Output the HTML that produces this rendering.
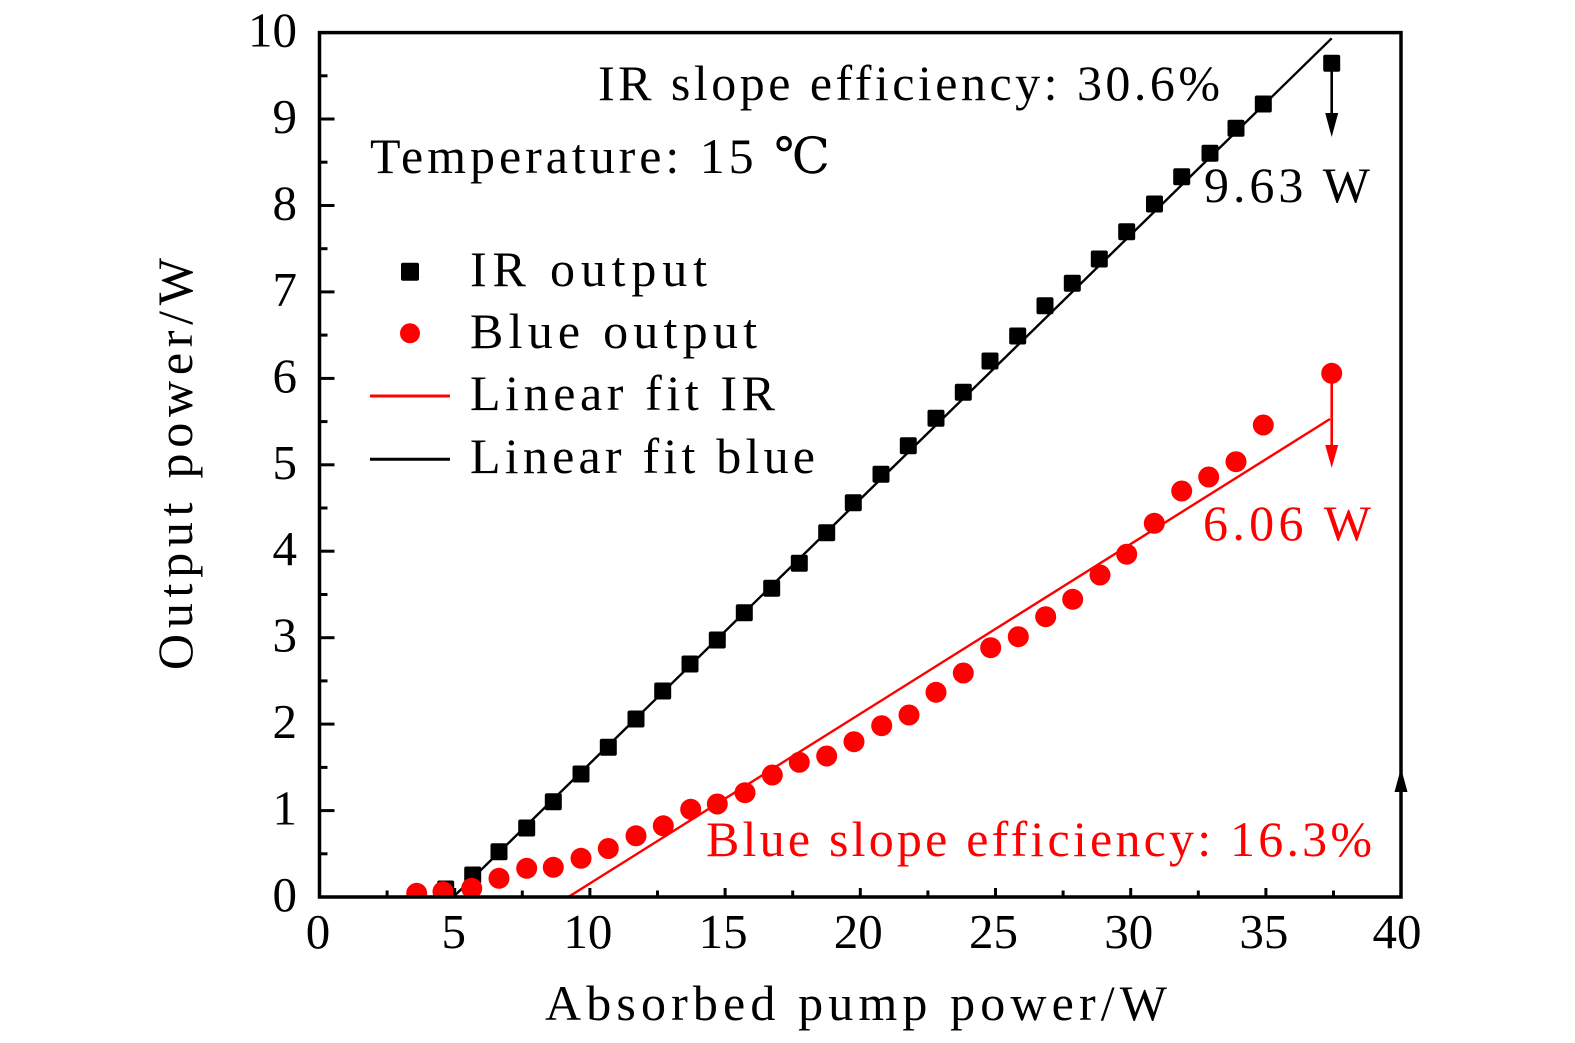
<!DOCTYPE html>
<html>
<head>
<meta charset="utf-8">
<style>
html,body{margin:0;padding:0;background:#fff;}
svg{display:block;}
text{font-family:"Liberation Serif","DejaVu Serif",serif;}
</style>
</head>
<body>
<svg width="1575" height="1043" viewBox="0 0 1575 1043" xmlns="http://www.w3.org/2000/svg">
<defs>
<clipPath id="pa"><rect x="319.5" y="32.6" width="1081.5" height="864.4"/></clipPath>
</defs>
<rect width="1575" height="1043" fill="#fff"/>

<g clip-path="url(#pa)">
<line x1="453.3" y1="897" x2="1331.7" y2="38.3" stroke="#000" stroke-width="2.4"/>
<line x1="568.3" y1="897" x2="1330" y2="419" stroke="#f00" stroke-width="2.4"/>

<line x1="1331.7" y1="63" x2="1331.7" y2="118" stroke="#000" stroke-width="2.6"/>
<polygon points="1325.2,113 1338.2,113 1331.7,137" fill="#000"/>
<line x1="1331.7" y1="373" x2="1331.7" y2="450" stroke="#f00" stroke-width="2.6"/>
<polygon points="1325.2,445 1338.2,445 1331.7,468" fill="#f00"/>

<g fill="#000">
<rect x="437.2" y="880.5" width="17" height="17" rx="2"/>
<rect x="464.2" y="866.5" width="17" height="17" rx="2"/>
<rect x="490.5" y="843.2" width="17" height="17" rx="2"/>
<rect x="518.2" y="819.5" width="17" height="17" rx="2"/>
<rect x="544.8" y="793.2" width="17" height="17" rx="2"/>
<rect x="572.5" y="765.5" width="17" height="17" rx="2"/>
<rect x="599.8" y="738.8" width="17" height="17" rx="2"/>
<rect x="627.5" y="710.5" width="17" height="17" rx="2"/>
<rect x="654.2" y="682.5" width="17" height="17" rx="2"/>
<rect x="681.5" y="655.5" width="17" height="17" rx="2"/>
<rect x="708.8" y="631.5" width="17" height="17" rx="2"/>
<rect x="735.8" y="604.2" width="17" height="17" rx="2"/>
<rect x="763.2" y="579.8" width="17" height="17" rx="2"/>
<rect x="790.8" y="554.8" width="17" height="17" rx="2"/>
<rect x="818.2" y="524.2" width="17" height="17" rx="2"/>
<rect x="844.8" y="494.2" width="17" height="17" rx="2"/>
<rect x="872.5" y="465.8" width="17" height="17" rx="2"/>
<rect x="899.8" y="437.2" width="17" height="17" rx="2"/>
<rect x="927.5" y="409.8" width="17" height="17" rx="2"/>
<rect x="954.8" y="383.8" width="17" height="17" rx="2"/>
<rect x="981.5" y="352.5" width="17" height="17" rx="2"/>
<rect x="1009.2" y="327.5" width="17" height="17" rx="2"/>
<rect x="1036.5" y="297.2" width="17" height="17" rx="2"/>
<rect x="1063.8" y="274.8" width="17" height="17" rx="2"/>
<rect x="1090.8" y="250.5" width="17" height="17" rx="2"/>
<rect x="1118.2" y="223.2" width="17" height="17" rx="2"/>
<rect x="1146" y="195.5" width="17" height="17" rx="2"/>
<rect x="1173.2" y="168.2" width="17" height="17" rx="2"/>
<rect x="1201.5" y="144.8" width="17" height="17" rx="2"/>
<rect x="1227.5" y="119.8" width="17" height="17" rx="2"/>
<rect x="1254.8" y="95.5" width="17" height="17" rx="2"/>
<rect x="1323.2" y="54.8" width="17" height="17" rx="2"/>
</g>

<g fill="#f00">
<circle cx="416.7" cy="893.3" r="10.5"/>
<circle cx="443" cy="891.7" r="10.5"/>
<circle cx="471.7" cy="888.3" r="10.5"/>
<circle cx="499" cy="878.3" r="10.5"/>
<circle cx="526.7" cy="868.3" r="10.5"/>
<circle cx="553.3" cy="867.3" r="10.5"/>
<circle cx="581" cy="858.3" r="10.5"/>
<circle cx="608.3" cy="848.5" r="10.5"/>
<circle cx="636" cy="835.8" r="10.5"/>
<circle cx="663.3" cy="825.8" r="10.5"/>
<circle cx="690.7" cy="809.3" r="10.5"/>
<circle cx="717.3" cy="804" r="10.5"/>
<circle cx="745" cy="792.7" r="10.5"/>
<circle cx="772.3" cy="775" r="10.5"/>
<circle cx="799.3" cy="762.3" r="10.5"/>
<circle cx="826.7" cy="756" r="10.5"/>
<circle cx="854" cy="741.7" r="10.5"/>
<circle cx="881.7" cy="725.7" r="10.5"/>
<circle cx="909" cy="715" r="10.5"/>
<circle cx="936" cy="692.3" r="10.5"/>
<circle cx="963.3" cy="673" r="10.5"/>
<circle cx="990.7" cy="647.7" r="10.5"/>
<circle cx="1018.3" cy="636.7" r="10.5"/>
<circle cx="1045.7" cy="616.7" r="10.5"/>
<circle cx="1072.7" cy="599.3" r="10.5"/>
<circle cx="1100" cy="575" r="10.5"/>
<circle cx="1126.7" cy="554.2" r="10.5"/>
<circle cx="1154.3" cy="523.3" r="10.5"/>
<circle cx="1181.7" cy="491" r="10.5"/>
<circle cx="1208.7" cy="477" r="10.5"/>
<circle cx="1236" cy="461.7" r="10.5"/>
<circle cx="1263.3" cy="425" r="10.5"/>
<circle cx="1331.7" cy="373.3" r="10.5"/>
</g>
</g>

<rect x="319.5" y="32.6" width="1081.5" height="864.4" fill="none" stroke="#000" stroke-width="3.5"/>

<polygon points="1394.5,792 1407.5,792 1401,768" fill="#000"/>

<g stroke="#000" stroke-width="3">
<line x1="319.5" y1="810.6" x2="334.5" y2="810.6"/>
<line x1="319.5" y1="724.1" x2="334.5" y2="724.1"/>
<line x1="319.5" y1="637.7" x2="334.5" y2="637.7"/>
<line x1="319.5" y1="551.2" x2="334.5" y2="551.2"/>
<line x1="319.5" y1="464.8" x2="334.5" y2="464.8"/>
<line x1="319.5" y1="378.4" x2="334.5" y2="378.4"/>
<line x1="319.5" y1="291.9" x2="334.5" y2="291.9"/>
<line x1="319.5" y1="205.5" x2="334.5" y2="205.5"/>
<line x1="319.5" y1="119.0" x2="334.5" y2="119.0"/>
<line x1="319.5" y1="853.8" x2="327.5" y2="853.8"/>
<line x1="319.5" y1="767.4" x2="327.5" y2="767.4"/>
<line x1="319.5" y1="680.9" x2="327.5" y2="680.9"/>
<line x1="319.5" y1="594.5" x2="327.5" y2="594.5"/>
<line x1="319.5" y1="508.0" x2="327.5" y2="508.0"/>
<line x1="319.5" y1="421.6" x2="327.5" y2="421.6"/>
<line x1="319.5" y1="335.1" x2="327.5" y2="335.1"/>
<line x1="319.5" y1="248.7" x2="327.5" y2="248.7"/>
<line x1="319.5" y1="162.2" x2="327.5" y2="162.2"/>
<line x1="319.5" y1="75.8" x2="327.5" y2="75.8"/>
<line x1="454.7" y1="897" x2="454.7" y2="888"/>
<line x1="589.9" y1="897" x2="589.9" y2="888"/>
<line x1="725.1" y1="897" x2="725.1" y2="888"/>
<line x1="860.3" y1="897" x2="860.3" y2="888"/>
<line x1="995.5" y1="897" x2="995.5" y2="888"/>
<line x1="1130.7" y1="897" x2="1130.7" y2="888"/>
<line x1="1265.9" y1="897" x2="1265.9" y2="888"/>
<line x1="387.1" y1="897" x2="387.1" y2="890.5"/>
<line x1="522.3" y1="897" x2="522.3" y2="890.5"/>
<line x1="657.5" y1="897" x2="657.5" y2="890.5"/>
<line x1="792.7" y1="897" x2="792.7" y2="890.5"/>
<line x1="927.9" y1="897" x2="927.9" y2="890.5"/>
<line x1="1063.1" y1="897" x2="1063.1" y2="890.5"/>
<line x1="1198.3" y1="897" x2="1198.3" y2="890.5"/>
<line x1="1333.5" y1="897" x2="1333.5" y2="890.5"/>
</g>

<g font-size="49" text-anchor="end" fill="#000">
<text x="297" y="911">0</text>
<text x="297" y="824.6">1</text>
<text x="297" y="738.1">2</text>
<text x="297" y="651.7">3</text>
<text x="297" y="565.2">4</text>
<text x="297" y="478.8">5</text>
<text x="297" y="392.4">6</text>
<text x="297" y="305.9">7</text>
<text x="297" y="219.5">8</text>
<text x="297" y="133">9</text>
<text x="297" y="46.6">10</text>
</g>

<g font-size="49" text-anchor="middle" fill="#000">
<text x="318" y="948">0</text>
<text x="453.7" y="948">5</text>
<text x="587.9" y="948">10</text>
<text x="723.1" y="948">15</text>
<text x="858.3" y="948">20</text>
<text x="993.5" y="948">25</text>
<text x="1128.7" y="948">30</text>
<text x="1263.9" y="948">35</text>
<text x="1397" y="948">40</text>
</g>

<text x="545" y="1020" font-size="50" textLength="622" lengthAdjust="spacing">Absorbed pump power/W</text>
<text x="192" y="670" font-size="50" textLength="412" lengthAdjust="spacing" transform="rotate(-90 192 670)">Output power/W</text>

<text x="598" y="100" font-size="50" textLength="622" lengthAdjust="spacing">IR slope efficiency: 30.6%</text>
<text x="370" y="173" font-size="50" textLength="460" lengthAdjust="spacing">Temperature: 15 ℃</text>
<text x="1204" y="202" font-size="50" textLength="166" lengthAdjust="spacing">9.63 W</text>
<text x="1203" y="540" font-size="50" textLength="168" lengthAdjust="spacing" fill="#f00">6.06 W</text>
<text x="706" y="856" font-size="50" textLength="666" lengthAdjust="spacing" fill="#f00">Blue slope efficiency: 16.3%</text>

<rect x="401" y="262.7" width="18" height="18" rx="2" fill="#000"/>
<circle cx="410" cy="333.3" r="10" fill="#f00"/>
<line x1="370" y1="396" x2="450" y2="396" stroke="#f00" stroke-width="3"/>
<line x1="370" y1="459.3" x2="450" y2="459.3" stroke="#000" stroke-width="3"/>
<text x="470" y="286" font-size="50" textLength="237" lengthAdjust="spacing">IR output</text>
<text x="470" y="348" font-size="50" textLength="287" lengthAdjust="spacing">Blue output</text>
<text x="470" y="410" font-size="50" textLength="305" lengthAdjust="spacing">Linear fit IR</text>
<text x="470" y="473" font-size="50" textLength="345" lengthAdjust="spacing">Linear fit blue</text>
</svg>
</body>
</html>
